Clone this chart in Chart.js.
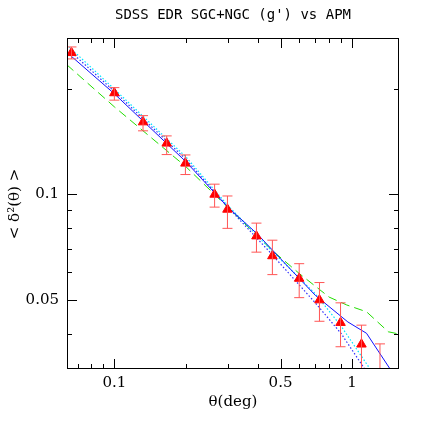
<!DOCTYPE html>
<html><head><meta charset="utf-8">
<script src="https://cdn.jsdelivr.net/npm/chart.js@4/dist/chart.umd.min.js"></script>
<style>html,body{margin:0;padding:0;background:#fff}#w{width:436px;height:436px}</style>
</head><body><div id="w"><canvas id="c"></canvas></div>
<script>
const titleText = "SDSS EDR SGC+NGC (g') vs APM";
const xTitle = "θ(deg)";
const yTitle = "< δ²(θ) >";
const obsTheta = [0.066,0.1,0.132,0.166,0.199,0.264,0.299,0.396,0.462,0.599,0.729,0.894,1.095,1.31];
const obsVal   = [0.254,0.195,0.161,0.140,0.1227,0.1,0.0906,0.076,0.0667,0.0575,0.0499,0.043,0.0373,0.030];
const obsLo    = [0.244,0.186,0.152,0.130,0.114,0.092,0.080,0.0684,0.059,0.0507,0.0434,0.0367,0.030,0.025];
const obsHi    = [0.264,0.202,0.168,0.147,0.1297,0.107,0.099,0.0828,0.074,0.0634,0.056,0.049,0.0423,0.0374];
const blueX = [0.063,0.1,0.2,0.3,0.4,0.5,0.7,0.96,1.15,1.445];
const blueY = [0.255,0.194,0.124,0.092,0.077,0.0655,0.0515,0.0432,0.0401,0.0317];
const blueDotX = [0.063,0.1,0.2,0.3,0.45,0.7,0.9,1.13];
const blueDotY = [0.262,0.197,0.126,0.092,0.0685,0.049,0.040,0.0317];
const cyanX = [0.063,0.1,0.2,0.3,0.45,0.7,0.9,1.19];
const cyanY = [0.268,0.2,0.128,0.093,0.070,0.052,0.042,0.0317];
const greenX = [0.063,0.1,0.2,0.264,0.46,0.6,0.8,0.95,1.15,1.42,1.55];
const greenY = [0.235,0.178,0.120,0.1,0.0693,0.0594,0.0509,0.0483,0.0462,0.0405,0.040];
const xTicks = [0.07,0.08,0.09,0.1,0.2,0.3,0.4,0.5,0.6,0.7,0.8,0.9,1];
const xLabels = [0.1,0.5,1];
const yTicks = [0.04,0.05,0.06,0.07,0.08,0.09,0.1,0.2];
const yLabels = [0.05,0.1];

const pts = (xs,ys)=>xs.map((x,i)=>({x,y:ys[i]}));
const FONT = "'DejaVu Serif', serif";

const deco = {
  id:'deco',
  afterDatasetsDraw(ch){
    const {ctx, chartArea:a, scales:{x,y}} = ch;
    ctx.save();
    ctx.beginPath(); ctx.rect(a.left,a.top,a.right-a.left,a.bottom-a.top); ctx.clip();
    ctx.strokeStyle='#f55'; ctx.lineWidth=1;
    obsTheta.forEach((t,i)=>{
      const px=x.getPixelForValue(t), lo=y.getPixelForValue(obsLo[i]), hi=y.getPixelForValue(obsHi[i]);
      ctx.beginPath();
      ctx.moveTo(px,lo);ctx.lineTo(px,hi);
      ctx.moveTo(px-5,lo);ctx.lineTo(px+5,lo);
      ctx.moveTo(px-5,hi);ctx.lineTo(px+5,hi);
      ctx.stroke();
    });
    ctx.restore();
    ctx.save();
    ctx.strokeStyle='#000'; ctx.lineWidth=1;
    ctx.strokeRect(a.left+0.5,a.top+0.5,a.right-a.left-1,a.bottom-a.top-1);
    ctx.beginPath();
    xTicks.forEach(t=>{
      const p=Math.round(x.getPixelForValue(t))+0.5; const L=xLabels.includes(t)?10:5;
      ctx.moveTo(p,a.bottom);ctx.lineTo(p,a.bottom-L);
      ctx.moveTo(p,a.top);ctx.lineTo(p,a.top+L);
    });
    yTicks.forEach(t=>{
      const p=Math.round(y.getPixelForValue(t))+0.5; const L=yLabels.includes(t)?10:5;
      ctx.moveTo(a.left,p);ctx.lineTo(a.left+L,p);
      ctx.moveTo(a.right,p);ctx.lineTo(a.right-L,p);
    });
    ctx.stroke();
    ctx.fillStyle='#000';
    ctx.font="15px "+FONT; ctx.textAlign='center'; ctx.textBaseline='middle';
    xLabels.forEach(t=>ctx.fillText(String(t), x.getPixelForValue(t), 383));
    ctx.textAlign='right';
    yLabels.forEach(t=>ctx.fillText(String(t), 59, y.getPixelForValue(t)));
    ctx.textAlign='center';
    ctx.font="14px 'DejaVu Sans Mono', monospace"; ctx.fillText(titleText, 233, 15);
    ctx.font="15px "+FONT; ctx.fillText(xTitle, 233, 402);
    ctx.save(); ctx.translate(15,204); ctx.rotate(-Math.PI/2); ctx.fillText(yTitle,0,0); ctx.restore();
    ctx.restore();
  }
};

new Chart(document.getElementById('c'),{
  type:'scatter',
  data:{datasets:[
    {data:pts(obsTheta,obsVal),pointStyle:'triangle',pointRadius:5.5,backgroundColor:'#ff0000',borderColor:'#ff0000',order:0},
    {data:pts(blueX,blueY),showLine:true,pointRadius:0,borderColor:'#1010ff',borderWidth:1,order:1},
    {data:pts(blueDotX,blueDotY),showLine:true,pointRadius:0,borderColor:'#3030ff',borderWidth:1.2,borderDash:[1.5,2],order:2},
    {data:pts(cyanX,cyanY),showLine:true,pointRadius:0,borderColor:'#00e5ff',borderWidth:1.2,borderDash:[1.5,2],order:3},
    {data:pts(greenX,greenY),showLine:true,pointRadius:0,borderColor:'#22dd00',borderWidth:1,borderDash:[9,5],order:4}
  ]},
  options:{
    responsive:true,maintainAspectRatio:false,animation:false,
    layout:{padding:{left:0,right:37,top:38,bottom:0}},
    plugins:{legend:{display:false},tooltip:{enabled:false},title:{display:false}},
    scales:{
      x:{type:'logarithmic',min:0.0632,max:1.575,grid:{display:false},border:{display:false},
         ticks:{display:false},afterFit(s){s.height=67;}},
      y:{type:'logarithmic',min:0.0317,max:0.28,grid:{display:false},border:{display:false},
         ticks:{display:false},afterFit(s){s.width=67;}}
    }
  },
  plugins:[deco]
});
</script></body></html>
